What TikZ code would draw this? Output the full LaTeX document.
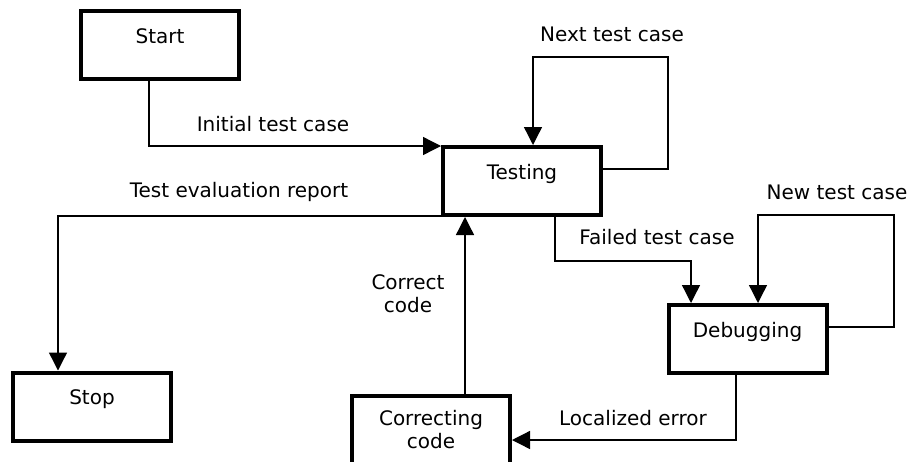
\documentclass[tikz,border=0pt]{standalone}
\usepackage{fontspec}
\setmainfont{DejaVu Sans}
\usetikzlibrary{arrows.meta,calc}
\tikzset{
  stage/.style={draw, line width=3pt, minimum width=118.5pt, minimum height=51pt, align=center, inner sep=2pt},
  stageone/.style={stage, text height=12pt, text depth=15pt},
  flow/.style={line width=1pt, -{Triangle[length=13.5pt,width=13.5pt]}},
  lbl/.style={inner sep=0pt}
}
\begin{document}
\begin{tikzpicture}[x=0.75pt, y=-0.75pt, font=\fontsize{15pt}{17.25pt}\selectfont]
  \useasboundingbox (0,0) rectangle (909,461);
  % the stages
  \node [stageone] (start) at (160,45) {Start};
  \node [stageone] (testing) at (522,181) {Testing};
  \node [stageone] (stop) at (92,406.5) {Stop};
  \node [stageone] (debugging) at (747.5,339) {Debugging};
  \node [stage] (correcting) at (431,430) {Correcting\\code};

  % connectors
  \draw [flow] ($(start.south)+(-11,0)$) |- ($(testing.north west)+(0,1)$);
  \draw [flow] ($(testing.east)+(0,-12)$) -| (668,57) -| ($(testing.north)+(11,0)$);
  \draw [flow] ($(testing.south west)+(0,-1)$) -| ($(stop.north)+(-34,0)$);
  \draw [flow] ($(testing.south)+(33,0)$) -- ++(0,44) -| ($(debugging.north)+(-56.5,0)$);
  \draw [flow] ($(debugging.east)+(0,-12)$) -| (894,215) -| ($(debugging.north)+(10.5,0)$);
  \draw [flow] ($(debugging.south)+(-11.5,0)$) |- ($(correcting.east)+(0,10)$);
  \coordinate (fix) at ($(correcting.north)+(34,0)$);
  \draw [flow] (fix) -- (fix |- testing.south);

  % labels
  \node [lbl] (initlbl) at (273,124) {Initial test case};
  \node [lbl] (nextlbl) at (612,34) {Next test case};
  \node [lbl] (evallbl) at (239,192) {Test evaluation report};
  \node [lbl] (faillbl) at (657,237) {Failed test case};
  \node [lbl] (newlbl) at (837,192) {New test case};
  \node [lbl] (loclbl) at (633,418) {Localized error};
  \node [lbl, align=center] (corrlbl) at (408,294) {Correct\\code};
\end{tikzpicture}
\end{document}
